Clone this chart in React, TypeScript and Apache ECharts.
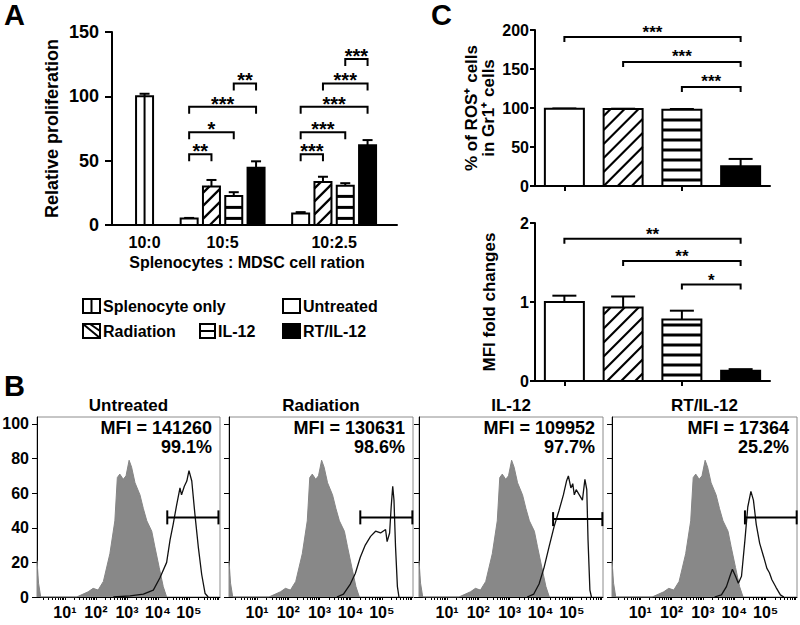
import React, { useEffect, useRef } from 'react';
import * as echarts from 'echarts';

const FF = '"Liberation Sans", Arial, Helvetica, sans-serif';
const bold = (px: number) => `bold ${px}px ${FF}`;

// ---------------- Panel A data ----------------
const aGroupLabels = ['10:0', '10:5', '10:2.5'];
const aGroupLabelPos = [0, 3.5, 8.5];
const aXTitle = 'Splenocytes : MDSC cell ration';
const aYTitle = 'Relative proliferation';
const aSplenPos = [0];
const aSplenVal = [100];
const aSplenErr = [2];
const aUntrPos = [2, 7];
const aUntrVal = [5, 9];
const aUntrErr = [0.5, 1];
const aRadPos = [3, 8];
const aRadVal = [30, 33.5];
const aRadErr = [5, 4];
const aIlPos = [4, 9];
const aIlVal = [22.5, 30.5];
const aIlErr = [3, 2];
const aRtPos = [5, 10];
const aRtVal = [44.5, 62];
const aRtErr = [5, 4];
const aBrFrom = [2, 2, 2, 4, 7, 7, 7, 8, 9];
const aBrTo = [3, 4, 5, 5, 8, 9, 10, 10, 10];
const aBrY = [55, 72, 92, 110, 55, 72, 92, 110, 129];
const aBrStars = ['**', '*', '***', '**', '***', '***', '***', '***', '***'];
const legendLabels = ['Splenocyte only', 'Untreated', 'Radiation', 'IL-12', 'RT/IL-12'];

// ---------------- Panel C data ----------------
const treatments = ['Untreated', 'Radiation', 'IL-12', 'RT/IL-12'];
const cRosVal = [99.1, 98.6, 97.7, 25.2];
const cRosErr = [0.3, 0.5, 1, 9.5];
const cRosBrFrom = [0, 1, 2];
const cRosBrTo = [3, 3, 3];
const cRosBrY = [191, 159, 127];
const cRosBrStars = ['***', '***', '***'];
const cMfiVal = [1.0, 0.93, 0.78, 0.13];
const cMfiErr = [0.08, 0.14, 0.11, 0.02];
const cMfiBrFrom = [0, 1, 2];
const cMfiBrTo = [3, 3, 3];
const cMfiBrY = [1.8, 1.52, 1.22];
const cMfiBrStars = ['**', '**', '*'];
const cRosTitle = '% of ROS\u207A cells\nin Gr1\u207A cells';
const cMfiTitle = 'MFI fold changes';

// ---------------- Panel B data ----------------
const bMfi = [141260, 130631, 109952, 17364];
const bPct = [99.1, 98.6, 97.7, 25.2];
const bDecades = [1, 2, 3, 4, 5];
const bDecadeLabels = ['10\u00B9', '10\u00B2', '10\u00B3', '10\u2074', '10\u2075'];
const bYTicks = [0, 20, 40, 60, 80, 100];
// x in decades (log10 of intensity), y in % of max
const bControl = [
  [0.1, 21], [0.15, 8], [0.22, 0], [1.38, 0], [1.75, 3], [1.91, 5], [2.07, 4], [2.24, 9],
  [2.45, 25], [2.61, 44], [2.69, 69], [2.77, 71], [2.88, 68], [2.97, 70], [3.07, 79],
  [3.15, 75], [3.26, 66], [3.42, 59], [3.53, 51], [3.64, 44], [3.8, 38], [3.9, 29],
  [4.04, 17], [4.17, 6], [4.28, 0],
];
const bOpenUntreated = [
  [2.56, 0], [3.1, 0.6], [3.53, 1.7], [3.85, 4], [4.06, 11], [4.28, 20], [4.39, 33],
  [4.49, 42], [4.6, 53], [4.71, 63], [4.76, 59], [4.85, 64], [4.93, 67], [5.0, 73],
  [5.09, 67], [5.19, 48], [5.3, 29], [5.41, 13], [5.52, 2], [5.62, 0],
];
const bOpenRadiation = [
  [3.56, 0], [3.77, 1.7], [3.99, 7.5], [4.15, 13.6], [4.31, 23], [4.47, 30], [4.64, 35],
  [4.8, 38], [4.96, 37], [5.12, 39], [5.17, 32], [5.25, 37], [5.3, 52], [5.35, 64],
  [5.39, 56], [5.44, 29], [5.5, 6], [5.55, 0],
];
const bOpenIl12 = [
  [3.57, 0], [3.78, 1.7], [3.95, 7.5], [4.11, 17], [4.27, 29], [4.43, 40.5], [4.59, 50],
  [4.73, 59], [4.83, 67], [4.89, 70], [4.97, 63], [5.03, 65.5], [5.08, 59], [5.14, 62],
  [5.24, 59], [5.34, 56], [5.42, 68], [5.48, 62], [5.52, 33], [5.58, 4], [5.63, 0],
];
const bOpenRtIl12 = [
  [3.37, 0], [3.59, 1.2], [3.75, 6], [3.86, 12], [3.94, 16], [4.04, 12], [4.13, 8],
  [4.23, 12], [4.34, 33], [4.43, 52], [4.53, 61], [4.61, 56], [4.7, 42], [4.81, 31],
  [4.94, 23], [5.04, 16.5], [5.12, 14], [5.2, 10], [5.33, 5.6], [5.47, 1.2], [5.58, 0],
];
const bOpen = [bOpenUntreated, bOpenRadiation, bOpenIl12, bOpenRtIl12];
const bGateFrom = [4.3, 4.31, 4.4, 4.34];
const bGateTo = [5.95, 5.98, 5.98, 5.99];
const bGateY = [46, 46, 45, 46];

// ---------------- rendering helpers ----------------
type BarStyle = { w: number; cap: number; gap: number; thick: number; step: number };

function barItems(pattern: string, cx: number, T: number, B: number, errY: number, s: BarStyle) {
  const L = cx - s.w / 2;
  const R = cx + s.w / 2;
  const ch: any[] = [];
  ch.push({ type: 'line', shape: { x1: cx, y1: T, x2: cx, y2: errY }, style: { stroke: '#000', lineWidth: 2 } });
  ch.push({ type: 'line', shape: { x1: cx - s.cap / 2, y1: errY, x2: cx + s.cap / 2, y2: errY }, style: { stroke: '#000', lineWidth: 2 } });
  ch.push({ type: 'rect', shape: { x: L, y: T, width: s.w, height: B - T }, style: { fill: pattern === 'solid' ? '#000' : '#fff', stroke: '#000', lineWidth: 2 } });
  if (pattern === 'split') {
    ch.push({ type: 'line', shape: { x1: cx, y1: T, x2: cx, y2: B }, style: { stroke: '#000', lineWidth: 2 } });
  }
  if (pattern === 'hstripe') {
    for (let y = B - s.gap * 0.6; y > T + 2; y -= s.gap) {
      const y0 = Math.max(T, y - s.thick / 2);
      ch.push({ type: 'rect', shape: { x: L, y: y0, width: s.w, height: Math.min(s.thick, y + s.thick / 2 - y0) }, style: { fill: '#000' } });
    }
  }
  if (pattern === 'diag') {
    for (let c = L + T + s.step * 0.5; c < R + B; c += s.step) {
      const x1 = Math.max(L, c - B);
      const x2 = Math.min(R, c - T);
      if (x2 - x1 > 1) {
        ch.push({ type: 'line', shape: { x1, y1: c - x1, x2, y2: c - x2 }, style: { stroke: '#000', lineWidth: 2.2 } });
      }
    }
  }
  return ch;
}

function barRenderer(patternOf: (i: number) => string, s: BarStyle) {
  return (params: any, api: any) => {
    const x = api.value(0);
    const v = api.value(1);
    const e = api.value(2);
    const base = api.coord([x, 0]);
    const top = api.coord([x, v]);
    const et = api.coord([x, v + e]);
    return { type: 'group', children: barItems(patternOf(params.dataIndex), base[0], top[1], base[1], et[1], s) };
  };
}

function bracketRenderer(stars: string[], tick: number, fontPx: number, lift: number) {
  return (params: any, api: any) => {
    const y = api.value(2);
    const p1 = api.coord([api.value(0), y]);
    const p2 = api.coord([api.value(1), y]);
    return {
      type: 'group',
      children: [
        {
          type: 'polyline',
          shape: { points: [[p1[0], p1[1] + tick], [p1[0], p1[1]], [p2[0], p2[1]], [p2[0], p2[1] + tick]] },
          style: { stroke: '#000', fill: 'none', lineWidth: 2 },
        },
        {
          type: 'text',
          x: (p1[0] + p2[0]) / 2,
          y: p1[1] - lift,
          style: { text: stars[params.dataIndex], font: bold(fontPx), fill: '#000', align: 'center', verticalAlign: 'middle', textAlign: 'center', textVerticalAlign: 'middle' },
        },
      ],
    };
  };
}

function gateRenderer() {
  return (params: any, api: any) => {
    const y = api.value(2);
    const p1 = api.coord([api.value(0), y]);
    const p2 = api.coord([api.value(1), y]);
    const st = { stroke: '#000', lineWidth: 2 };
    return {
      type: 'group',
      children: [
        { type: 'line', shape: { x1: p1[0], y1: p1[1], x2: p2[0], y2: p2[1] }, style: st },
        { type: 'line', shape: { x1: p1[0], y1: p1[1] - 7, x2: p1[0], y2: p1[1] + 7 }, style: st },
        { type: 'line', shape: { x1: p2[0], y1: p2[1] - 7, x2: p2[0], y2: p2[1] + 7 }, style: st },
      ],
    };
  };
}

function txt(text: string, x: number, y: number, px: number, align = 'left') {
  return {
    type: 'text',
    x,
    y,
    style: { text, font: bold(px), fill: '#000', align, verticalAlign: 'middle', textAlign: align, textVerticalAlign: 'middle' },
  };
}

function legendIcon(pattern: string, x: number, y: number, w: number, h: number) {
  const st = { stroke: '#000', lineWidth: 2 };
  const ch: any[] = [{ type: 'rect', shape: { x, y, width: w, height: h }, style: { fill: pattern === 'solid' ? '#000' : '#fff', stroke: '#000', lineWidth: 2 } }];
  if (pattern === 'split') ch.push({ type: 'line', shape: { x1: x + w / 2, y1: y, x2: x + w / 2, y2: y + h }, style: st });
  if (pattern === 'hstripe') ch.push({ type: 'line', shape: { x1: x, y1: y + h / 2, x2: x + w, y2: y + h / 2 }, style: st });
  if (pattern === 'diag') {
    ch.push({ type: 'line', shape: { x1: x, y1: y, x2: x + w, y2: y + h }, style: st });
    ch.push({ type: 'line', shape: { x1: x + 7, y1: y, x2: x + w, y2: y + h - 7 }, style: st });
  }
  return { type: 'group', children: ch };
}

function buildOption(): any {
  const black = (w: number) => ({ show: true, onZero: false, lineStyle: { color: '#000', width: w } });
  const lbl = (px: number, margin: number, extra: any = {}) => ({
    color: '#000', fontFamily: FF, fontWeight: 'bold', fontSize: px, margin, ...extra,
  });
  const nameStyle = (px: number, extra: any = {}) => ({ color: '#000', fontFamily: FF, fontWeight: 'bold', fontSize: px, ...extra });

  const bLefts = [37, 229, 419, 612];
  const bWidths = [183, 184, 184, 185];

  const bTickPos: number[] = [];
  for (let n = 0; n <= 5; n++) {
    for (let k = 1; k <= 9; k++) {
      const t = n + Math.log10(k);
      if (t >= 0.1 && t <= 6) bTickPos.push(t);
    }
  }

  const grid: any[] = [
    { left: 112, top: 32, width: 285, height: 193 },
    { left: 535, top: 30, width: 235, height: 156 },
    { left: 535, top: 223, width: 235, height: 158 },
    ...bLefts.map((l, i) => ({ left: l, top: 417, width: bWidths[i], height: 180, show: true, borderColor: '#8c8c8c', borderWidth: 1 })),
  ].map((g) => ({ containLabel: false, outerBoundsMode: 'none', ...g }));

  const catX = (gi: number) => ({
    gridIndex: gi, type: 'category', data: treatments, boundaryGap: true,
    axisLine: black(2), axisTick: { show: true, alignWithLabel: true, length: 5, lineStyle: { color: '#000', width: 2 } },
    axisLabel: { show: false }, splitLine: { show: false },
  });

  const xAxis: any[] = [
    {
      gridIndex: 0, type: 'value', min: -1.46, max: 11.32,
      axisLine: black(2), axisTick: { show: false }, splitLine: { show: false },
      axisLabel: lbl(16, 9, { customValues: aGroupLabelPos, formatter: (v: number) => aGroupLabels[aGroupLabelPos.indexOf(v)] ?? '' }),
      name: aXTitle, nameLocation: 'middle', nameGap: 29, nameMoveOverlap: false,
      nameTextStyle: nameStyle(16, { padding: [0, 15, 0, 0] }),
    },
    catX(1),
    catX(2),
    ...bLefts.map((_, i) => ({
      gridIndex: 3 + i, type: 'value', min: 0.1, max: 6,
      axisLine: black(1), splitLine: { show: false },
      axisTick: { show: true, customValues: bTickPos, length: 3, lineStyle: { color: '#000', width: 1 } },
      axisLabel: lbl(16, 7, { customValues: bDecades, formatter: (v: number) => bDecadeLabels[bDecades.indexOf(v)] ?? '' }),
    })),
  ];

  const yAxis: any[] = [
    {
      gridIndex: 0, type: 'value', min: 0, max: 150, interval: 50,
      axisLine: black(2), axisTick: { show: true, length: 7, lineStyle: { color: '#000', width: 2 } },
      axisLabel: lbl(18, 13), splitLine: { show: false },
      name: aYTitle, nameLocation: 'middle', nameGap: 51, nameMoveOverlap: false, nameTextStyle: nameStyle(18),
    },
    {
      gridIndex: 1, type: 'value', min: 0, max: 200, interval: 50,
      axisLine: black(2), axisTick: { show: true, length: 5, lineStyle: { color: '#000', width: 2 } },
      axisLabel: lbl(16, 6), splitLine: { show: false },
      name: cRosTitle, nameLocation: 'middle', nameGap: 38, nameMoveOverlap: false, nameTextStyle: nameStyle(17, { lineHeight: 17 }),
    },
    {
      gridIndex: 2, type: 'value', min: 0, max: 2, interval: 1,
      axisLine: black(2), axisTick: { show: true, length: 5, lineStyle: { color: '#000', width: 2 } },
      axisLabel: lbl(16, 6), splitLine: { show: false },
      name: cMfiTitle, nameLocation: 'middle', nameGap: 37, nameMoveOverlap: false, nameTextStyle: nameStyle(17),
    },
    ...bLefts.map((_, i) => ({
      gridIndex: 3 + i, type: 'value', min: 0, max: 104,
      axisLine: black(1), splitLine: { show: false },
      axisTick: { show: true, customValues: bYTicks, length: 5, lineStyle: { color: '#000', width: 1 } },
      axisLabel: lbl(16, 8, { show: i === 0, customValues: bYTicks }),
    })),
  ];

  const aStyle: BarStyle = { w: 17, cap: 10, gap: 11, thick: 3, step: 13 };
  const cStyle: BarStyle = { w: 39, cap: 24, gap: 10, thick: 3, step: 14 };
  const cPatterns = ['open', 'diag', 'hstripe', 'solid'];

  const aGroups = [
    { name: legendLabels[0], pattern: 'split', pos: aSplenPos, val: aSplenVal, err: aSplenErr },
    { name: legendLabels[1], pattern: 'open', pos: aUntrPos, val: aUntrVal, err: aUntrErr },
    { name: legendLabels[2], pattern: 'diag', pos: aRadPos, val: aRadVal, err: aRadErr },
    { name: legendLabels[3], pattern: 'hstripe', pos: aIlPos, val: aIlVal, err: aIlErr },
    { name: legendLabels[4], pattern: 'solid', pos: aRtPos, val: aRtVal, err: aRtErr },
  ];

  const series: any[] = [];
  aGroups.forEach((g) => {
    series.push({
      type: 'custom', name: g.name, xAxisIndex: 0, yAxisIndex: 0, encode: { x: 0, y: 1 },
      data: g.pos.map((p, i) => [p, g.val[i], g.err[i]]),
      renderItem: barRenderer(() => g.pattern, aStyle), z: 3,
    });
  });
  series.push({
    type: 'custom', name: 'A brackets', xAxisIndex: 0, yAxisIndex: 0, encode: { x: [0, 1], y: 2 },
    data: aBrFrom.map((f, i) => [f, aBrTo[i], aBrY[i]]),
    renderItem: bracketRenderer(aBrStars, 7, 20, 3), z: 4,
  });
  series.push({
    type: 'custom', name: 'ROS', xAxisIndex: 1, yAxisIndex: 1, encode: { x: 0, y: 1 },
    data: cRosVal.map((v, i) => [i, v, cRosErr[i]]),
    renderItem: barRenderer((i) => cPatterns[i], cStyle), z: 3,
  });
  series.push({
    type: 'custom', name: 'ROS brackets', xAxisIndex: 1, yAxisIndex: 1, encode: { x: [0, 1], y: 2 },
    data: cRosBrFrom.map((f, i) => [f, cRosBrTo[i], cRosBrY[i]]),
    renderItem: bracketRenderer(cRosBrStars, 5, 17, 5), z: 4,
  });
  series.push({
    type: 'custom', name: 'MFI', xAxisIndex: 2, yAxisIndex: 2, encode: { x: 0, y: 1 },
    data: cMfiVal.map((v, i) => [i, v, cMfiErr[i]]),
    renderItem: barRenderer((i) => cPatterns[i], cStyle), z: 3,
  });
  series.push({
    type: 'custom', name: 'MFI brackets', xAxisIndex: 2, yAxisIndex: 2, encode: { x: [0, 1], y: 2 },
    data: cMfiBrFrom.map((f, i) => [f, cMfiBrTo[i], cMfiBrY[i]]),
    renderItem: bracketRenderer(cMfiBrStars, 5, 17, 4), z: 4,
  });
  bLefts.forEach((_, i) => {
    series.push({
      type: 'line', name: 'Control ' + treatments[i], xAxisIndex: 3 + i, yAxisIndex: 3 + i,
      data: bControl, showSymbol: false, symbol: 'none', smooth: false,
      lineStyle: { color: '#858585', width: 1 }, areaStyle: { color: '#888888', opacity: 1 }, z: 2,
    });
    series.push({
      type: 'line', name: treatments[i], xAxisIndex: 3 + i, yAxisIndex: 3 + i,
      data: bOpen[i], showSymbol: false, symbol: 'none', smooth: false,
      lineStyle: { color: '#111', width: 1.3 }, z: 3,
    });
    series.push({
      type: 'custom', name: 'Gate ' + treatments[i], xAxisIndex: 3 + i, yAxisIndex: 3 + i, encode: { x: [0, 1], y: 2 },
      data: [[bGateFrom[i], bGateTo[i], bGateY[i]]], renderItem: gateRenderer(), z: 4,
    });
  });

  const graphic: any[] = [
    txt('A', 4, 15, 29),
    txt('B', 4, 386, 29),
    txt('C', 431, 15, 29),
    // legend of panel A
    legendIcon('split', 83, 299, 17, 14), txt(legendLabels[0], 103, 306, 16),
    legendIcon('open', 283, 299, 17, 14), txt(legendLabels[1], 303, 306, 16),
    legendIcon('diag', 83, 324, 17, 14), txt(legendLabels[2], 103, 331, 16),
    legendIcon('hstripe', 200, 324, 15, 14), txt(legendLabels[3], 218, 331, 16),
    legendIcon('solid', 283, 324, 17, 14), txt(legendLabels[4], 303, 331, 16),
  ];
  bLefts.forEach((l, i) => {
    graphic.push(txt(treatments[i], l + bWidths[i] / 2, 405, 17, 'center'));
    graphic.push(txt(`MFI = ${bMfi[i]}`, l + bWidths[i] - 8, 428, 18, 'right'));
    graphic.push(txt(`${bPct[i]}%`, l + bWidths[i] - 8, 447, 18, 'right'));
  });

  return {
    animation: false,
    backgroundColor: '#fff',
    textStyle: { fontFamily: FF },
    grid, xAxis, yAxis, series,
    graphic: { elements: graphic },
  };
}

export default function App() {
  const ref = useRef<HTMLDivElement>(null);
  useEffect(() => {
    document.body.style.margin = '0';
    const chart = echarts.init(ref.current!, null, { renderer: 'svg' });
    chart.setOption(buildOption());
    return () => chart.dispose();
  }, []);
  return <div ref={ref} style={{ position: 'absolute', left: 0, top: 0, width: 800, height: 625, background: '#fff' }} />;
}
